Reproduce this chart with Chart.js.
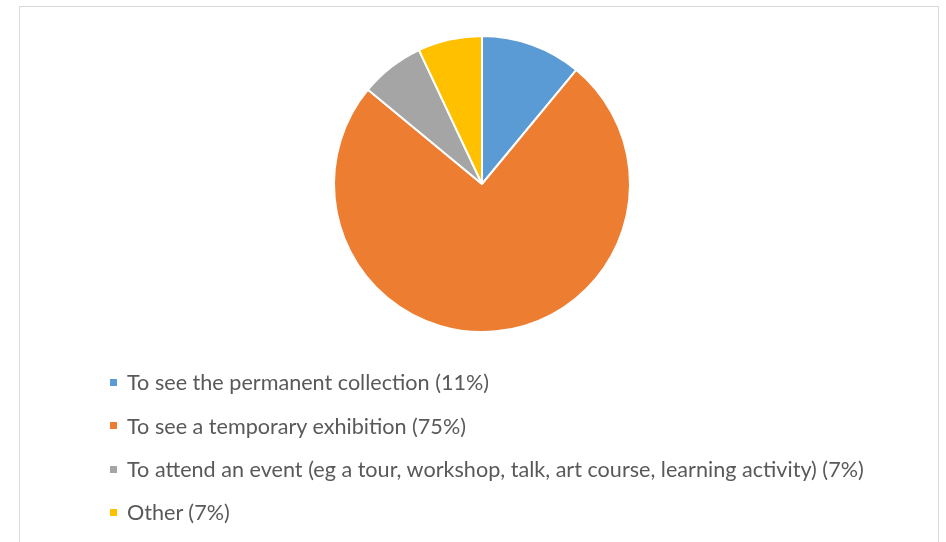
<!DOCTYPE html>
<html>
<head>
<meta charset="utf-8">
<script src="https://cdn.jsdelivr.net/npm/chart.js@4/dist/chart.umd.min.js"></script>
<style>
  html, body { margin: 0; padding: 0; background: #ffffff; }
  #wrap { position: relative; width: 946px; height: 542px; overflow: hidden; }
  #frame { position: absolute; left: 19px; top: 6px; width: 920px; height: 560px;
           border: 1px solid #d9d9d9; box-sizing: border-box; }
  #pie { position: absolute; left: 0; top: 0; }
  #legend { position: absolute; left: 0; top: 0; width: 946px; height: 542px; pointer-events: none;
            font-family: Lato, "Liberation Sans", sans-serif; font-size: 21.6px; color: #595959; }
  .item { position: absolute; left: 110px; height: 22px; display: flex; align-items: center; white-space: nowrap; }
  .box { width: 7px; height: 7px; margin-right: 10px; flex: none; }
</style>
</head>
<body>
<div id="wrap">
  <div id="frame"></div>
  <canvas id="pie" width="946" height="542"></canvas>
  <div id="legend"></div>
</div>
<script>
// Reasons for visiting
const categories = [
  "To see the permanent collection (11%)",
  "To see a temporary exhibition (75%)",
  "To attend an event (eg a tour, workshop, talk, art course, learning activity) (7%)",
  "Other (7%)"
];
const shares = [11, 75, 7, 7];
const sliceColors = ["#5B9BD5", "#ED7D31", "#A5A5A5", "#FFC000"];

const legendRowY = [382, 425.5, 469, 512];

const chart = new Chart(document.getElementById("pie"), {
  type: "pie",
  data: {
    labels: categories,
    datasets: [{
      data: shares,
      backgroundColor: sliceColors,
      borderColor: "#ffffff",
      borderWidth: 2
    }]
  },
  options: {
    responsive: false,
    animation: false,
    layout: { padding: { left: 333, right: 315, top: 35, bottom: 209 } },
    plugins: {
      legend: { display: false },
      tooltip: { enabled: false }
    }
  }
});

// Vertical legend below the pie, built from the chart's own legend items
const legendEl = document.getElementById("legend");
const items = chart.options.plugins.legend.labels.generateLabels(chart);
items.forEach((it, i) => {
  const row = document.createElement("div");
  row.className = "item";
  row.style.top = (legendRowY[i] - 11) + "px";
  const box = document.createElement("span");
  box.className = "box";
  box.style.background = it.fillStyle;
  const txt = document.createElement("span");
  txt.textContent = it.text;
  row.appendChild(box);
  row.appendChild(txt);
  legendEl.appendChild(row);
});
</script>
</body>
</html>
